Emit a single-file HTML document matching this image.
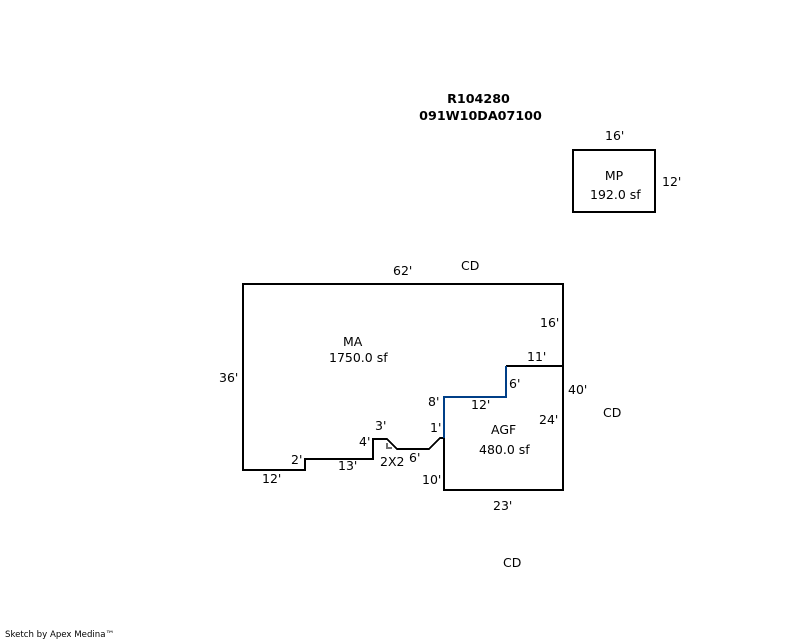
<!DOCTYPE html>
<html>
<head>
<meta charset="utf-8">
<style>
html,body{margin:0;padding:0;background:#fff;}
svg{display:block;}
text{font-family:"DejaVu Sans","Liberation Sans",sans-serif;font-size:12.5px;fill:#000;}
.b{font-weight:bold;font-size:12.7px;}
.s{font-size:8.6px;}
</style>
</head>
<body>
<svg width="800" height="640" viewBox="0 0 800 640" xmlns="http://www.w3.org/2000/svg">
<g fill="none" stroke="#000" stroke-width="2" stroke-linejoin="miter" shape-rendering="crispEdges">
<rect x="573" y="150" width="82" height="62"/>
<path d="M444 438 H440 L429 449 H397 L387 439 H373 V459 H305 V470 H243 V284 H563 V490 H444 V438"/>
<path d="M506 366 H563"/>
</g>
<path d="M444 438 V397 H506 V366" fill="none" stroke="#003f87" stroke-width="2" shape-rendering="crispEdges"/>
<path d="M387 443 V448 H392" fill="none" stroke="#707070" stroke-width="2" shape-rendering="crispEdges"/>
<text class="b" x="478.500" y="103" text-anchor="middle">R104280</text>
<text class="b" x="480.500" y="120" text-anchor="middle">091W10DA07100</text>
<text x="605" y="140">16'</text>
<text x="662" y="186">12'</text>
<text x="614" y="180" text-anchor="middle">MP</text>
<text x="590" y="199">192.0 sf</text>
<text x="393" y="275">62'</text>
<text x="461" y="270">CD</text>
<text x="343" y="346">MA</text>
<text x="329" y="362">1750.0 sf</text>
<text x="540" y="327">16'</text>
<text x="527" y="361">11'</text>
<text x="568" y="394">40'</text>
<text x="603" y="417">CD</text>
<text x="219" y="382">36'</text>
<text x="509" y="388">6'</text>
<text x="428" y="406">8'</text>
<text x="471" y="409">12'</text>
<text x="539" y="424">24'</text>
<text x="375" y="430">3'</text>
<text x="430" y="432">1'</text>
<text x="359" y="446">4'</text>
<text x="491" y="434">AGF</text>
<text x="479" y="454">480.0 sf</text>
<text x="291" y="464">2'</text>
<text x="380" y="466">2X2</text>
<text x="409" y="462">6'</text>
<text x="338" y="470">13'</text>
<text x="262" y="483">12'</text>
<text x="422" y="484">10'</text>
<text x="493" y="510">23'</text>
<text x="503" y="567">CD</text>
<text class="s" x="5" y="637">Sketch by Apex Medina™</text>
</svg>
</body>
</html>
